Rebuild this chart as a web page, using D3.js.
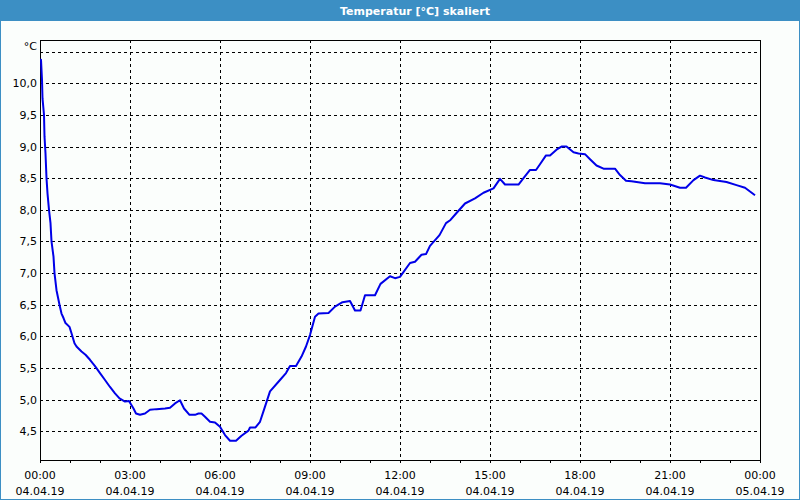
<!DOCTYPE html>
<html>
<head>
<meta charset="utf-8">
<script src="https://cdn.jsdelivr.net/npm/d3@7"></script>
<style>
  html, body { margin: 0; padding: 0; background: #fbfefc; }
  svg { display: block; }
  text { font-family: Tahoma, "DejaVu Sans", "Liberation Sans", sans-serif; }
</style>
</head>
<body>
<svg id="chart" width="800" height="500"></svg>
<script>
// ---- data ----
const title = "Temperatur [°C] skaliert";
const unitLabel = "°C";
// minutes since 04.04.19 00:00
const minutes = [0, 2, 4, 5, 8, 9, 11, 13, 15, 18, 21, 23, 27, 29, 33, 39, 43, 47, 51, 59, 63, 69, 73, 83, 91, 100, 110, 120, 130, 140, 150, 159, 170, 178, 181, 187, 192, 200, 210, 220, 233, 250, 260, 270, 280, 288, 299, 310, 317, 323, 330, 340, 350, 360, 370, 380, 392, 403, 417, 420, 431, 440, 450, 460, 480, 492, 500, 512, 523, 532, 540, 550, 557, 577, 590, 605, 620, 630, 641, 650, 670, 681, 700, 710, 720, 740, 750, 763, 772, 780, 799, 812, 821, 833, 850, 870, 887, 907, 920, 930, 957, 967, 980, 992, 1000, 1012, 1020, 1033, 1043, 1053, 1067, 1077, 1090, 1100, 1113, 1127, 1150, 1160, 1172, 1183, 1210, 1240, 1260, 1280, 1292, 1307, 1320, 1330, 1347, 1373, 1393, 1410, 1430];
const temps = [10.37, 10.37, 10.05, 9.76, 9.5, 9.16, 8.89, 8.5, 8.26, 8.0, 7.79, 7.5, 7.26, 7.0, 6.73, 6.5, 6.36, 6.29, 6.21, 6.15, 6.05, 5.89, 5.84, 5.76, 5.71, 5.63, 5.53, 5.42, 5.31, 5.2, 5.1, 5.02, 4.97, 4.98, 4.94, 4.86, 4.78, 4.76, 4.78, 4.84, 4.85, 4.86, 4.87, 4.94, 4.99, 4.86, 4.76, 4.76, 4.78, 4.78, 4.73, 4.65, 4.64, 4.57, 4.44, 4.35, 4.35, 4.43, 4.51, 4.56, 4.56, 4.65, 4.89, 5.13, 5.31, 5.42, 5.53, 5.53, 5.68, 5.84, 6.02, 6.31, 6.36, 6.37, 6.47, 6.54, 6.56, 6.41, 6.41, 6.65, 6.65, 6.83, 6.95, 6.92, 6.94, 7.16, 7.18, 7.29, 7.3, 7.43, 7.6, 7.79, 7.84, 7.95, 8.1, 8.18, 8.27, 8.34, 8.49, 8.4, 8.4, 8.5, 8.63, 8.63, 8.72, 8.86, 8.86, 8.95, 9.0, 9.0, 8.91, 8.89, 8.88, 8.8, 8.7, 8.65, 8.65, 8.55, 8.46, 8.45, 8.42, 8.42, 8.4, 8.35, 8.35, 8.47, 8.54, 8.51, 8.47, 8.44, 8.39, 8.35, 8.23];
const yTicks = [4.5, 5.0, 5.5, 6.0, 6.5, 7.0, 7.5, 8.0, 8.5, 9.0, 9.5, 10.0, 10.5];
const yTickLabels = ["4,5", "5,0", "5,5", "6,0", "6,5", "7,0", "7,5", "8,0", "8,5", "9,0", "9,5", "10,0", ""];
const xMajorHours = [0, 3, 6, 9, 12, 15, 18, 21, 24];
const xTimeLabels = ["00:00", "03:00", "06:00", "09:00", "12:00", "15:00", "18:00", "21:00", "00:00"];
const xDateLabels = ["04.04.19", "04.04.19", "04.04.19", "04.04.19", "04.04.19", "04.04.19", "04.04.19", "04.04.19", "05.04.19"];
const xMinorHours = d3.range(0, 25, 1);

// ---- layout ----
const W = 800, H = 500;
const L = 40, R = 760, T = 40, B = 460;
const svg = d3.select("#chart");

const x = d3.scaleLinear().domain([0, 24]).range([L, R]);
const y = d3.scaleLinear().domain([4.046, 10.684]).range([B, T]);

// window frame
svg.append("rect").attr("x", 0.5).attr("y", 0.5).attr("width", W - 1).attr("height", H - 1)
  .attr("fill", "#fbfefc").attr("stroke", "#3c8fc4").attr("stroke-width", 1);
svg.append("rect").attr("x", 0).attr("y", 0).attr("width", W).attr("height", 21).attr("fill", "#3c8fc4");
svg.append("text").attr("x", 415).attr("y", 15).attr("text-anchor", "middle")
  .attr("fill", "#ffffff").attr("font-weight", "bold").attr("font-size", "11px").text(title);

// grid
const grid = svg.append("g").attr("shape-rendering", "crispEdges");
grid.selectAll("line.h").data(yTicks).join("line")
  .attr("x1", L).attr("x2", R)
  .attr("y1", d => Math.round(y(d)) + 0.5).attr("y2", d => Math.round(y(d)) + 0.5)
  .attr("stroke", "#000").attr("stroke-dasharray", "3,3");
grid.selectAll("line.v").data(xMajorHours.slice(1, -1)).join("line")
  .attr("y1", T).attr("y2", B)
  .attr("x1", d => Math.round(x(d)) + 0.5).attr("x2", d => Math.round(x(d)) + 0.5)
  .attr("stroke", "#000").attr("stroke-dasharray", "3,3");

// plot box
svg.append("rect").attr("x", L + 0.5).attr("y", T + 0.5).attr("width", R - L).attr("height", B - T)
  .attr("fill", "none").attr("stroke", "#000").attr("shape-rendering", "crispEdges");

// y axis labels
svg.append("g").selectAll("text").data(yTicks).join("text")
  .attr("x", 37).attr("y", d => y(d) + 4).attr("text-anchor", "end")
  .attr("font-size", "11px").attr("fill", "#000")
  .text((d, i) => yTickLabels[i]);
svg.append("text").attr("x", 37).attr("y", 50).attr("text-anchor", "end")
  .attr("font-size", "11px").attr("fill", "#000").text(unitLabel);

// x axis ticks
svg.append("g").attr("shape-rendering", "crispEdges").selectAll("line").data(xMinorHours).join("line")
  .attr("x1", d => Math.round(x(d)) + 0.5).attr("x2", d => Math.round(x(d)) + 0.5)
  .attr("y1", B).attr("y2", B + 3).attr("stroke", "#000");
const xl = svg.append("g");
xl.selectAll("text.t").data(xMajorHours).join("text")
  .attr("x", d => x(d)).attr("y", 479).attr("text-anchor", "middle")
  .attr("font-size", "11px").attr("fill", "#000").text((d, i) => xTimeLabels[i]);
xl.selectAll("text.d").data(xMajorHours).join("text").attr("class", "d")
  .attr("x", d => x(d)).attr("y", 495).attr("text-anchor", "middle")
  .attr("font-size", "11px").attr("fill", "#000").text((d, i) => xDateLabels[i]);

// line
const pts = minutes.map((m, i) => [m / 60, temps[i]]);
svg.append("path").datum(pts)
  .attr("fill", "none").attr("stroke", "#0000e8").attr("stroke-width", 2)
  .attr("stroke-linejoin", "round")
  .attr("d", d3.line().x(d => x(d[0])).y(d => y(d[1])));
</script>
</body>
</html>
